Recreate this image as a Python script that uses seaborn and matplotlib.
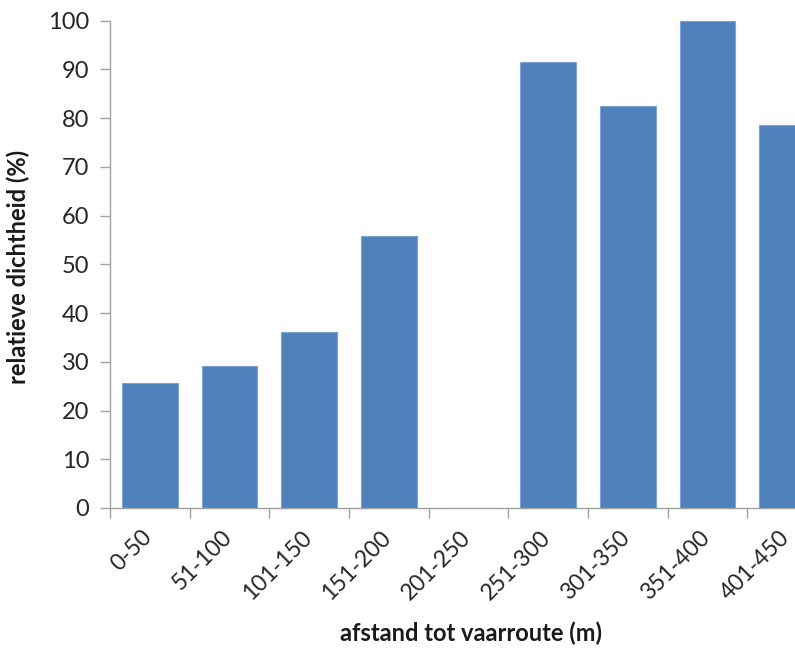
import matplotlib
matplotlib.use("Agg")
import matplotlib.pyplot as plt
import matplotlib.transforms as mtransforms
import seaborn as sns
import numpy as np
import pandas as pd

categories = ["0-50", "51-100", "101-150", "151-200", "201-250",
              "251-300", "301-350", "351-400", "401-450"]
density = [25.7, 29.1, 36.2, 55.9, 0.0, 91.6, 82.4, 100.0, 78.5]
y_ticks = [0, 10, 20, 30, 40, 50, 60, 70, 80, 90, 100]

sns.set_theme(style="white")
plt.rcParams["font.family"] = ["Lato", "DejaVu Sans"]

df = pd.DataFrame({"afstand": categories, "dichtheid": density})

W, H = 795, 651
fig = plt.figure(figsize=(W / 100, H / 100), dpi=100)
ax_h = 508 - 20.7
ax_w = 827 - 110
ax = fig.add_axes([110 / W, (H - 508) / H, ax_w / W, ax_h / H])

sns.barplot(data=df, x="afstand", y="dichtheid", order=categories,
            color="#4F81BD", saturation=1, width=0.7, ax=ax,
            edgecolor="#7DA3D3", linewidth=0.8)

ax.set_xlim(-0.5, len(categories) - 0.5)
ax.set_ylim(0, 100)
ax.set_yticks(y_ticks)
ax.set_yticklabels([str(t) for t in y_ticks], fontsize=17, color="#262626")

# category labels: rotated, ending just below each bar's centre
ax.set_xticks(range(len(categories)))
ax.set_xticklabels([])
label_tf = ax.get_xaxis_transform() + mtransforms.ScaledTranslation(
    -1 / 100, -26 / 100, fig.dpi_scale_trans)
for i, name in enumerate(categories):
    ax.text(i, 0, name, transform=label_tf, rotation=45, rotation_mode="anchor",
            ha="right", va="center", fontsize=16.5, color="#262626")

ax.set_xticks(np.arange(-0.5, len(categories), 1.0), minor=True)
ax.tick_params(axis="x", which="major", length=0)
ax.tick_params(axis="x", which="minor", length=7, width=1, color="#A0A0A0",
               direction="out", bottom=True)
ax.tick_params(axis="y", length=7, width=1, color="#A0A0A0", direction="out",
               left=True, pad=8)

for side in ["top", "right"]:
    ax.spines[side].set_visible(False)
for side in ["left", "bottom"]:
    ax.spines[side].set_color("#A0A0A0")
    ax.spines[side].set_linewidth(1)

ax.set_ylabel("relatieve dichtheid (%)", fontsize=17, fontweight="bold",
              color="#1a1a1a")
ax.yaxis.set_label_coords(-(110 - 30) / ax_w, (508 - 267) / ax_h)
ax.set_xlabel("afstand tot vaarroute (m)", fontsize=17, fontweight="bold",
              color="#1a1a1a")
ax.xaxis.set_label_coords((471 - 110) / ax_w, -(622 - 508) / ax_h)

fig.savefig("out.png", dpi=100)
